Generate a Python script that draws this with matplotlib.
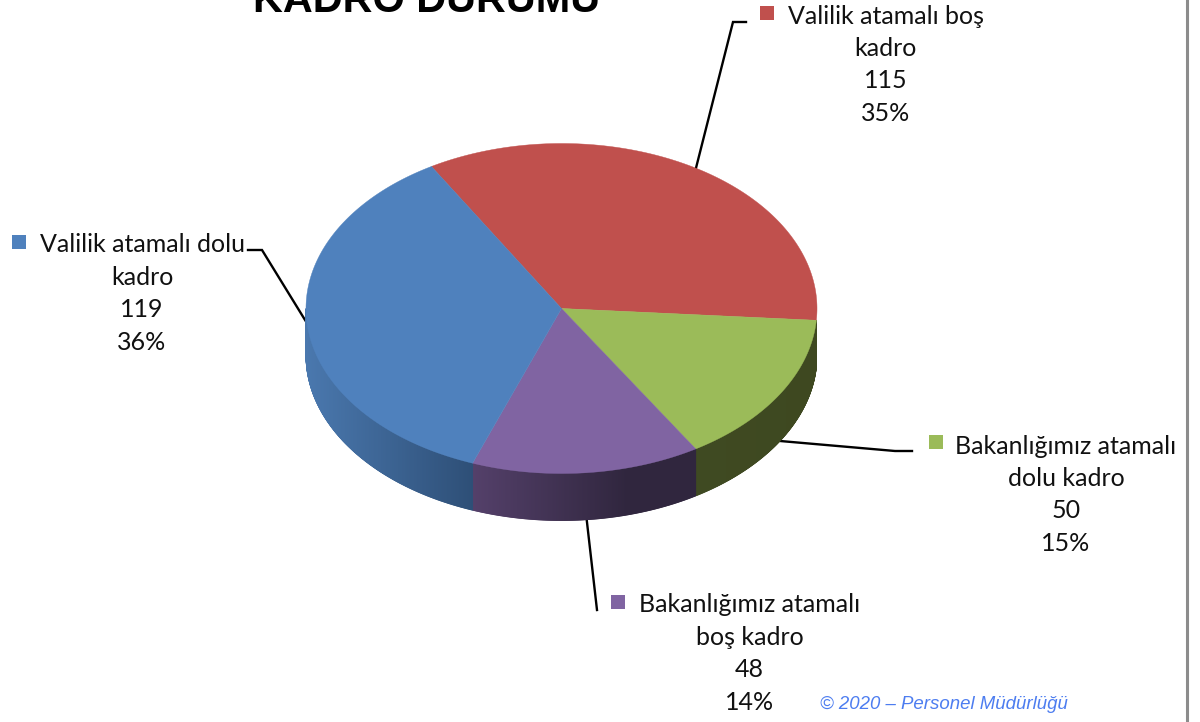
import numpy as np
import matplotlib
matplotlib.use("Agg")
import matplotlib.pyplot as plt
from matplotlib.patches import Polygon, Rectangle
from matplotlib.collections import PolyCollection
from matplotlib.colors import to_rgb

# ---- data (clockwise from the top-left slice boundary)
names = [["Valilik atamalı boş", "kadro"],
         ["Bakanlığımız atamalı", "dolu kadro"],
         ["Bakanlığımız atamalı", "boş kadro"],
         ["Valilik atamalı dolu", "kadro"]]
values = [115, 50, 48, 119]
percents = ["35%", "15%", "14%", "36%"]
title = "KADRO DURUMU"
footer = "© 2020 – Personel Müdürlüğü"

# ---- style
top_colors = ["#C0504D", "#9BBB59", "#8064A2", "#4F81BD"]
side_left = [None, "#3f4a22", "#54406a", "#4a78ae"]
side_right = [None, "#3e4820", "#30263e", "#2e4f77"]
cx, cy, rx, ry, depth = 561.5, 308.5, 255.5, 165, 47
start_deg = 239.4
label_cx = [885.5, 1066, 749.5, 142]
label_y0 = [16, 446, 605, 245]
line_step = 32.4
marker_x = [760, 929, 611, 12]
marker_y = [6, 435, 595, 235]
leader_knee = [[(733, 22), (746, 22)], [(895, 451), (912, 451)],
               [(597, 610)], [(262, 250), (248, 250)]]

fig = plt.figure(figsize=(12, 7.22), dpi=100, facecolor="white")
ax = fig.add_axes([0, 0, 1, 1])
ax.set_xlim(0, 1200)
ax.set_ylim(722, 0)
ax.axis("off")


def pt(theta, dy=0.0):
    t = np.radians(theta)
    return cx + rx * np.cos(t), cy + ry * np.sin(t) + dy


spans = np.array(values) / sum(values) * 360
starts = start_deg + np.concatenate([[0], np.cumsum(spans)[:-1]])
ends = starts + spans


def front_range(a, b):
    """Part of slice [a, b] on the visible front wall (screen angles 0-180)."""
    for k in (-360, 0, 360):
        lo, hi = max(a + k, 0), min(b + k, 180)
        if hi > lo:
            yield lo, hi


# side wall with horizontal gradient
for a, b, cl, cr in zip(starts, ends, side_left, side_right):
    if cl is None:
        continue
    for lo, hi in front_range(a, b):
        th = np.linspace(lo, hi, int((hi - lo) * 5) + 2)
        xa = pt(hi)[0]
        xb = pt(lo)[0]
        polys, cols = [], []
        c0, c1 = np.array(to_rgb(cl)), np.array(to_rgb(cr))
        for t0, t1 in zip(th[:-1], th[1:]):
            x0, y0 = pt(t0)
            x1, y1 = pt(t1)
            polys.append([(x0, y0), (x1, y1), (x1, y1 + depth), (x0, y0 + depth)])
            f = ((x0 + x1) / 2 - xa) / max(xb - xa, 1)
            f = min(1.0, f * 1.45) if cl == "#54406a" else f
            cols.append(c0 + (c1 - c0) * f)
        ax.add_collection(PolyCollection(polys, facecolors=cols, edgecolors=cols,
                                         linewidths=0.6, zorder=2))

# top faces
for a, b, c in zip(starts, ends, top_colors):
    th = np.linspace(a, b, 300)
    x, y = pt(th)
    ax.add_patch(Polygon(np.r_[[[cx, cy]], np.c_[x, y]], closed=True, facecolor=c,
                         edgecolor=c, linewidth=0.3, zorder=3))

# leaders, markers and labels
for i in range(4):
    mid = (starts[i] + ends[i]) / 2 % 360
    p0 = pt(mid, depth if 10 < mid < 170 else 0)
    xs, ys = zip(*([p0] + leader_knee[i]))
    ax.plot(xs, ys, color="black", lw=1.7, zorder=1, solid_joinstyle="miter")
    ax.add_patch(Rectangle((marker_x[i], marker_y[i]), 14, 14, facecolor=top_colors[i],
                           edgecolor="none", zorder=4))
    rows = names[i] + [str(values[i]), percents[i]]
    for j, row in enumerate(rows):
        ax.text(label_cx[i], label_y0[i] + j * line_step, row, ha="center", va="center",
                family="Lato", fontsize=18.0, color="#111111", zorder=5)

ax.text(426.5, 12, title, ha="center", va="baseline", family="Liberation Sans",
        weight="bold", fontsize=29.8, color="black", zorder=5)
ax.text(943.5, 709, footer, ha="center", va="baseline", family="Liberation Sans",
        style="italic", fontsize=13.45, color="#4d7df0", zorder=5)

# window border at the right
ax.plot([1187, 1187], [0, 722], color="#8c8c8c", lw=2.2, zorder=1)

fig.savefig("out.png", dpi=100, facecolor="white")
